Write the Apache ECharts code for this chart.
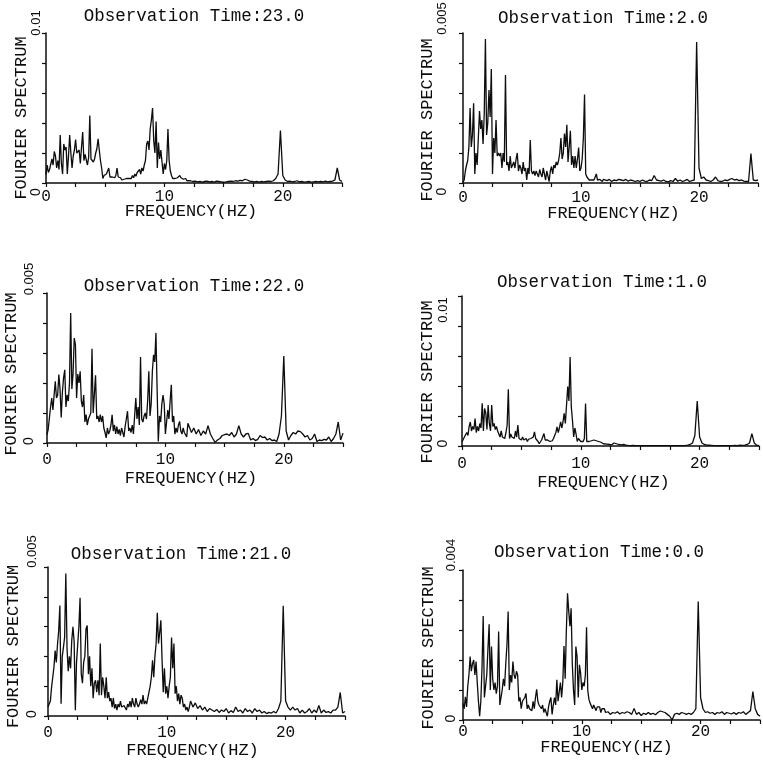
<!DOCTYPE html>
<html><head><meta charset="utf-8">
<script src="https://cdn.jsdelivr.net/npm/echarts@6/dist/echarts.min.js"></script>
<style>html,body{margin:0;padding:0;background:#fff}#c{width:763px;height:762px}</style>
</head><body><div id="c"></div>
<script>
// Frequency grid (Hz): 0.1 Hz steps to 12 Hz, then 0.2 Hz steps to 25 Hz
const FREQ = [
0,0.1,0.2,0.3,0.4,0.5,0.6,0.7,0.8,0.9,
1,1.1,1.2,1.3,1.4,1.5,1.6,1.7,1.8,1.9,
2,2.1,2.2,2.3,2.4,2.5,2.6,2.7,2.8,2.9,
3,3.1,3.2,3.3,3.4,3.5,3.6,3.7,3.8,3.9,
4,4.1,4.2,4.3,4.4,4.5,4.6,4.7,4.8,4.9,
5,5.1,5.2,5.3,5.4,5.5,5.6,5.7,5.8,5.9,
6,6.1,6.2,6.3,6.4,6.5,6.6,6.7,6.8,6.9,
7,7.1,7.2,7.3,7.4,7.5,7.6,7.7,7.8,7.9,
8,8.1,8.2,8.3,8.4,8.5,8.6,8.7,8.8,8.9,
9,9.1,9.2,9.3,9.4,9.5,9.6,9.7,9.8,9.9,
10,10.1,10.2,10.3,10.4,10.5,10.6,10.7,10.8,10.9,
11,11.1,11.2,11.3,11.4,11.5,11.6,11.7,11.8,11.9,
12,
12.2,12.4,12.6,12.8,13,
13.2,13.4,13.6,13.8,14,
14.2,14.4,14.6,14.8,15,
15.2,15.4,15.6,15.8,16,
16.2,16.4,16.6,16.8,17,
17.2,17.4,17.6,17.8,18,
18.2,18.4,18.6,18.8,19,
19.2,19.4,19.6,19.8,20,
20.2,20.4,20.6,20.8,21,
21.2,21.4,21.6,21.8,22,
22.2,22.4,22.6,22.8,23,
23.2,23.4,23.6,23.8,24,
24.2,24.4,24.6,24.8,25
];

// Spectrum values in units of 1e-3, one per FREQ entry
const SPEC_T23 = [
0.55,1.2,0.7,0.9,1.0,1.6,1.2,2.1,1.8,1.0,
1.5,0.9,3.2,1.3,0.6,2.6,2.2,2.4,0.6,1.8,
3.2,2.0,1.0,1.8,2.2,2.9,2.0,2.1,2.2,1.3,
2.4,3.4,1.5,1.9,1.8,1.2,1.7,4.5,1.6,1.5,
1.4,1.6,2.0,2.3,2.95,2.2,1.5,1.0,0.3,0.5,
0.4,0.6,0.5,1.0,0.4,0.3,0.4,0.3,0.35,0.5,
1.0,0.4,0.3,0.35,0.2,0.3,0.25,0.35,0.3,0.25,
0.3,0.4,0.3,0.5,0.35,0.6,0.45,0.7,0.6,0.9,
0.6,1.0,0.8,1.2,1.5,2.6,2.8,2.2,3.6,4.2,
5.0,2.8,2.0,4.1,1.0,2.7,1.6,2.2,1.4,0.6,
1.3,0.9,1.5,3.6,1.5,0.8,0.5,0.3,0.35,0.3,
0.4,0.35,0.45,0.5,0.35,0.3,0.25,0.2,0.3,0.15,
0.2,
0.15,0.1,0.12,0.08,0.1,
0.06,0.1,0.12,0.08,0.1,
0.06,0.12,0.1,0.08,0.05,
0.07,0.1,0.12,0.1,0.15,
0.12,0.18,0.15,0.25,0.2,
0.12,0.1,0.08,0.1,0.06,
0.1,0.08,0.1,0.12,0.1,
0.15,0.3,0.6,3.5,0.5,
0.2,0.1,0.12,0.08,0.1,
0.15,0.08,0.1,0.06,0.08,
0.1,0.06,0.08,0.1,0.07,
0.1,0.08,0.12,0.08,0.1,
0.12,0.2,1.0,0.2,0.1
];
const SPEC_T2 = [
0.03,0.1,0.4,0.6,0.75,1.2,2.5,1.2,1.6,2.66,
0.3,1.0,0.6,1.5,2.4,1.8,2.1,1.3,2.3,4.8,
1.6,2.0,3.1,2.2,3.8,0.3,1.5,1.0,2.1,0.9,
1.0,0.9,1.0,0.5,1.0,0.7,3.6,0.6,0.7,0.4,
0.9,0.5,0.6,0.7,0.5,0.8,1.0,0.4,0.6,0.5,
0.3,0.7,0.4,0.5,0.1,0.5,0.3,1.43,0.4,0.3,
0.4,0.25,0.4,0.3,0.2,0.45,0.3,0.2,0.5,0.3,
0.1,0.4,0.35,0.05,0.4,0.55,0.3,0.6,0.5,0.7,
0.6,0.75,1.0,1.5,0.8,1.0,1.65,1.2,1.94,0.7,
1.2,1.74,0.6,0.9,0.5,0.9,0.5,0.8,1.18,0.4,
0.5,0.8,1.5,2.95,0.3,0.2,0.15,0.1,0.12,0.1,
0.15,0.1,0.12,0.3,0.1,0.08,0.12,0.1,0.05,0.12,
0.1,
0.08,0.12,0.05,0.1,0.08,
0.12,0.1,0.08,0.12,0.06,
0.1,0.08,0.05,0.08,0.05,
0.1,0.06,0.05,0.1,0.08,
0.25,0.1,0.08,0.06,0.1,
0.05,0.04,0.08,0.05,0.15,
0.06,0.1,0.05,0.08,0.12,
0.05,0.08,0.1,4.7,0.5,
0.15,0.2,0.1,0.08,0.05,
0.1,0.2,0.08,0.05,0.06,
0.1,0.08,0.12,0.15,0.1,
0.12,0.08,0.1,0.06,0.05,
0.05,0.98,0.1,0.08,0.1
];
const SPEC_T22 = [
0.28,0.45,0.5,1.2,1.5,1.1,1.6,2.06,1.5,1.6,
2.28,1.8,0.85,1.7,2.17,2.44,1.2,1.6,1.4,2.0,
4.33,1.8,2.3,3.5,3.28,1.5,2.3,2.0,2.39,1.4,
1.2,1.6,0.7,0.95,0.6,0.8,0.9,1.0,3.14,1.0,
0.95,2.26,0.8,0.9,0.7,0.95,0.7,0.9,0.5,0.35,
0.17,0.5,0.3,0.4,0.6,0.94,0.4,0.6,0.3,0.55,
0.3,0.45,0.25,0.5,0.35,0.2,0.55,0.8,1.06,0.4,
0.5,0.35,0.6,0.3,0.9,1.5,0.8,1.2,0.6,2.87,
0.8,0.7,0.9,1.0,0.8,1.4,2.39,0.9,1.3,2.4,
2.94,2.7,3.67,1.8,0.05,0.9,0.7,1.3,1.6,1.3,
0.3,0.7,1.1,0.8,1.4,1.94,0.7,0.9,0.3,0.5,
0.35,0.6,0.72,0.4,0.3,0.5,0.35,0.4,0.2,0.66,
0.72,
0.35,0.5,0.3,0.45,0.25,
0.4,0.3,0.58,0.3,0.15,
0.02,0.1,0.15,0.25,0.28,
0.3,0.25,0.35,0.2,0.3,
0.58,0.3,0.2,0.3,0.32,
0.1,0.15,0.08,0.12,0.25,
0.18,0.2,0.1,0.15,0.08,
0.1,0.05,0.3,0.9,2.9,
0.4,0.1,0.25,0.35,0.3,
0.4,0.38,0.3,0.2,0.25,
0.1,0.15,0.3,0.05,0.1,
0.08,0.12,0.1,0.2,0.05,
0.15,0.3,0.7,0.1,0.33
];
const SPEC_T1 = [
0.27,0.3,0.6,0.5,0.9,0.7,1.3,1.6,1.0,1.3,
1.1,1.83,0.9,1.3,1.0,1.5,1.2,2.84,1.0,2.5,
2.2,1.1,2.73,1.5,1.0,2.73,1.3,1.5,1.1,1.3,
1.0,0.8,0.6,1.0,0.6,0.7,0.5,0.9,1.4,3.78,
0.5,0.8,0.6,0.7,0.5,1.0,0.6,1.39,0.5,0.6,
0.4,0.6,0.4,0.35,0.5,0.3,0.45,0.35,0.5,0.4,
0.6,0.94,0.5,0.4,0.3,0.15,0.25,0.4,0.5,0.83,
0.4,0.3,0.4,0.35,0.3,0.4,0.35,0.5,0.6,0.9,
1.28,0.9,1.2,1.61,1.2,1.6,2.17,1.5,2.73,3.96,
3.0,5.93,2.6,1.7,0.6,1.2,0.8,0.3,0.5,0.4,
0.3,0.2,0.3,0.5,2.84,0.3,0.25,0.3,0.2,0.35,
0.3,0.4,0.3,0.35,0.25,0.3,0.35,0.25,0.2,0.15,
0.15,
0.12,0.1,0.08,0.2,0.15,
0.1,0.08,0.1,0.06,0.04,
0.03,0.04,0.03,0.02,0.03,
0.02,0.03,0.02,0.03,0.02,
0.03,0.02,0.03,0.02,0.02,
0.03,0.02,0.02,0.03,0.02,
0.03,0.02,0.03,0.04,0.06,
0.1,0.2,0.7,3.0,0.6,
0.2,0.1,0.06,0.05,0.04,
0.03,0.02,0.03,0.02,0.03,
0.02,0.03,0.02,0.03,0.04,
0.03,0.05,0.04,0.06,0.1,
0.2,0.82,0.2,0.05,0.02
];
const SPEC_T21 = [
0.3,0.4,0.5,0.97,1.3,1.64,2.2,1.8,2.4,2.87,
3.71,0.41,2.0,2.3,2.65,4.78,2.3,1.5,2.0,1.6,
2.54,2.99,2.5,0.19,1.8,2.4,3.0,3.97,1.4,1.1,
1.8,2.0,2.93,3.04,1.4,2.0,1.0,1.6,0.6,1.1,
1.2,0.8,1.2,0.7,2.43,0.7,1.3,1.0,0.6,1.3,
0.6,0.8,0.5,0.6,0.3,0.6,0.25,0.4,0.2,0.4,
0.3,0.5,0.3,0.25,0.35,0.3,0.2,0.4,0.3,0.5,
0.3,0.6,0.4,0.3,0.6,0.4,0.3,0.4,0.55,0.4,
0.7,0.4,0.5,0.4,0.6,0.8,1.0,1.3,1.87,1.3,
2.0,2.43,3.46,2.43,2.8,3.21,1.9,0.8,1.6,0.75,
1.0,0.6,1.0,1.3,2.63,1.6,2.43,0.75,1.0,0.5,
0.75,0.4,0.7,0.6,0.3,0.4,0.2,0.3,0.15,0.3,
0.5,
0.3,0.44,0.25,0.35,0.2,
0.3,0.15,0.25,0.2,0.15,
0.22,0.12,0.2,0.15,0.25,
0.1,0.18,0.12,0.3,0.15,
0.2,0.1,0.25,0.15,0.2,
0.1,0.25,0.15,0.2,0.1,
0.15,0.08,0.12,0.1,0.15,
0.1,0.25,0.5,3.7,0.5,
0.3,0.2,0.3,0.2,0.25,
0.1,0.2,0.1,0.15,0.25,
0.1,0.2,0.12,0.35,0.1,
0.2,0.12,0.15,0.1,0.2,
0.2,0.3,0.79,0.1,0.15
];
const SPEC_T0 = [
0.44,0.3,0.62,0.35,0.9,1.2,1.69,1.3,1.5,1.6,
1.2,1.56,1.0,0.5,0.1,0.5,1.4,2.77,0.6,0.9,
1.2,1.9,2.55,0.8,1.96,1.1,0.8,1.0,0.7,0.9,
2.36,0.4,0.6,0.8,1.1,0.9,1.5,2.0,2.89,0.8,
1.2,1.0,1.56,1.2,1.1,1.3,1.2,0.5,0.6,0.3,
0.5,0.45,0.6,0.71,0.3,0.4,0.3,0.35,0.25,0.5,
0.3,0.6,0.82,0.5,0.4,0.35,0.3,0.4,0.2,0.3,
0.25,0.1,0.35,0.5,0.6,0.15,0.4,0.6,0.4,1.07,
0.5,0.45,1.0,0.6,1.0,1.97,1.1,2.4,3.38,2.9,
2.5,2.98,1.5,0.8,0.4,1.96,1.7,0.6,1.47,1.25,
0.8,1.0,0.9,1.2,2.47,0.8,0.55,0.45,0.5,0.3,
0.4,0.35,0.25,0.35,0.3,0.35,0.2,0.3,0.25,0.3,
0.2,
0.22,0.15,0.2,0.18,0.22,
0.16,0.2,0.18,0.22,0.2,
0.15,0.31,0.15,0.2,0.12,
0.18,0.15,0.2,0.15,0.18,
0.14,0.2,0.24,0.22,0.2,
0.15,0.1,0.0,0.15,0.18,
0.15,0.2,0.18,0.15,0.18,
0.15,0.2,0.3,3.16,0.6,
0.3,0.2,0.22,0.18,0.2,
0.15,0.2,0.18,0.22,0.15,
0.2,0.18,0.16,0.2,0.15,
0.2,0.18,0.22,0.15,0.2,
0.25,0.76,0.3,0.15,0.1
];
const VALUE_UNIT = 0.001;

const TITLES = ['Observation Time:23.0','Observation Time:2.0','Observation Time:22.0','Observation Time:1.0','Observation Time:21.0','Observation Time:0.0'];
const SPECTRA = [SPEC_T23, SPEC_T2, SPEC_T22, SPEC_T1, SPEC_T21, SPEC_T0];
const Y_MAX = [0.01, 0.005, 0.005, 0.01, 0.005, 0.004];
const Y_MAX_LABELS = ['0.01','0.005','0.005','0.01','0.005','0.004'];
const X_TICK_LABELS = [0, 10, 20];
const X_NAME = 'FREQUENCY(HZ)';
const Y_NAME = 'FOURIER SPECTRUM';

// Layout / style per panel
const LAYOUT = [
  {grid:{left:46,top:33,width:296,height:150}, tx:194, ty:16, hi:10, lo:-9, yl:10, yng:25, ynd:10, xng:28, xns:-3, xl:14},
  {grid:{left:463,top:33,width:295,height:150}, tx:603, ty:18, hi:14.5, lo:-8.5, yl:21, yng:36, ynd:12, xng:30, xns:3, xl:15},
  {grid:{left:47,top:293,width:296,height:150}, tx:194, ty:286, hi:14, lo:2, yl:18, yng:36, ynd:6, xng:35, xns:-4, xl:17},
  {grid:{left:462,top:296,width:297,height:150}, tx:602, ty:282, hi:-14, lo:2.5, yl:19, yng:35, ynd:11, xng:36, xns:-7, xl:18},
  {grid:{left:48,top:567,width:297,height:149}, tx:181, ty:554, hi:15.5, lo:2, yl:15.5, yng:35, ynd:5, xng:34, xns:-4, xl:17},
  {grid:{left:463,top:570,width:297,height:150}, tx:599, ty:552, hi:15, lo:1.5, yl:12, yng:35, ynd:3, xng:27, xns:-5, xl:12}
];

const MONO = "'Liberation Mono','DejaVu Sans Mono',monospace";
const SANS = "'Liberation Sans','DejaVu Sans',sans-serif";
const INK = '#0d0d0d';

function shiftPad(s){ return s >= 0 ? [0,0,0,2*s] : [0,-2*s,0,0]; }

const option = {
  backgroundColor:'#fff',
  animation:false,
  title:[], grid:[], xAxis:[], yAxis:[], series:[]
};

SPECTRA.forEach((spec, i) => {
  const L = LAYOUT[i];
  const ymax = Y_MAX[i];
  const ylab = Y_MAX_LABELS[i];
  option.title.push({
    text: TITLES[i], left: L.tx, top: L.ty, textAlign:'center', textVerticalAlign:'middle', padding:0,
    textStyle:{fontFamily:MONO, fontSize:17.5, fontWeight:'normal', color:INK}
  });
  option.grid.push(Object.assign({outerBoundsMode:'none', containLabel:false}, L.grid));
  option.xAxis.push({
    type:'value', gridIndex:i, min:0, max:25, interval:2.5,
    name: X_NAME, nameLocation:'middle', nameGap:L.xng, nameMoveOverlap:false,
    nameTextStyle:{fontFamily:MONO, fontSize:17, color:INK, align:'center', verticalAlign:'middle',
      padding: L.xns >= 0 ? [0,0,0,2*L.xns] : [0,-2*L.xns,0,0]},
    axisLine:{show:true, onZero:false, lineStyle:{color:INK, width:1.5}},
    axisTick:{show:true, inside:false, length:4, lineStyle:{color:INK, width:1.2}},
    splitLine:{show:false},
    axisLabel:{show:true, margin:L.xl, verticalAlign:'middle', fontFamily:MONO, fontSize:16, color:INK,
      formatter: v => X_TICK_LABELS.indexOf(Math.round(v*100)/100) >= 0 ? String(v) : ''}
  });
  option.yAxis.push({
    type:'value', gridIndex:i, min:0, max:ymax, interval:ymax/5,
    name: Y_NAME, nameLocation:'middle', nameRotate:90, nameGap:L.yng, nameMoveOverlap:false,
    nameTextStyle:{fontFamily:MONO, fontSize:17, color:INK, align:'center', verticalAlign:'middle',
      padding: L.ynd >= 0 ? [0,2*L.ynd,0,0] : [0,0,0,-2*L.ynd]},
    axisLine:{show:true, onZero:false, lineStyle:{color:INK, width:1.5}},
    axisTick:{show:true, inside:false, length:4, lineStyle:{color:INK, width:1.2}},
    splitLine:{show:false},
    axisLabel:{show:true, rotate:90, margin:L.yl, align:'center', verticalAlign:'middle',
      fontFamily:SANS, fontSize:13, color:INK,
      formatter: v => v === 0 ? '{lo|0}' : (Math.abs(v - ymax) < ymax*1e-6 ? '{hi|' + ylab + '}' : ''),
      rich:{
        lo:{fontFamily:SANS, fontSize:14, color:INK, padding:shiftPad(L.lo)},
        hi:{fontFamily:SANS, fontSize:13, color:INK, padding:shiftPad(L.hi)}
      }}
  });
  option.series.push({
    type:'line', xAxisIndex:i, yAxisIndex:i, showSymbol:false, symbol:'none',
    lineStyle:{color:INK, width:1.3}, silent:true,
    data: FREQ.map((f, k) => [f, spec[k] * VALUE_UNIT])
  });
});

const chart = echarts.init(document.getElementById('c'), null, {renderer:'canvas'});
chart.setOption(option);
</script>
</body></html>
